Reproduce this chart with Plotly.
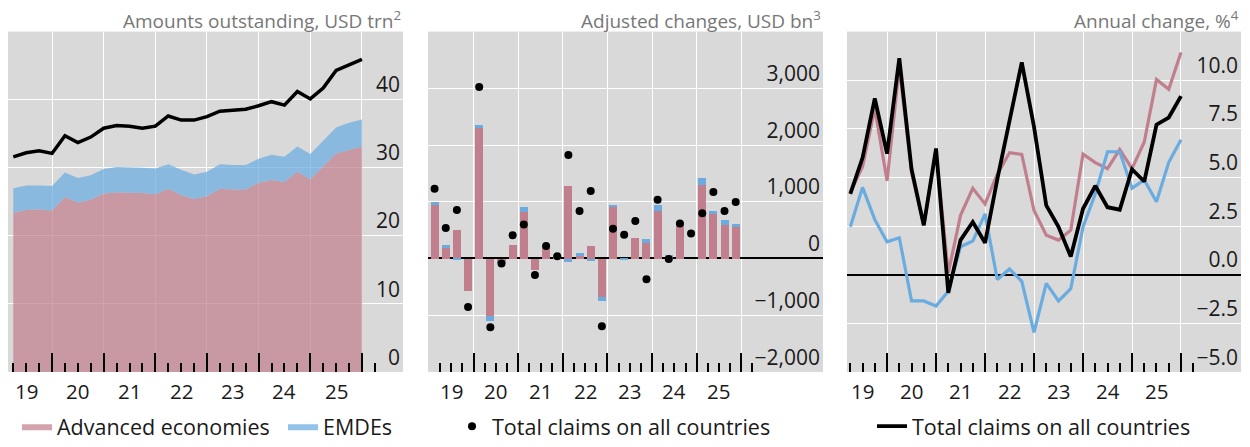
import numpy as np
import plotly.graph_objects as go

# ---- data -------------------------------------------------------------
quarters = [
    "2019Q1", "2019Q2", "2019Q3", "2019Q4", "2020Q1", "2020Q2", "2020Q3", "2020Q4",
    "2021Q1", "2021Q2", "2021Q3", "2021Q4", "2022Q1", "2022Q2", "2022Q3", "2022Q4",
    "2023Q1", "2023Q2", "2023Q3", "2023Q4", "2024Q1", "2024Q2", "2024Q3", "2024Q4",
    "2025Q1", "2025Q2", "2025Q3", "2025Q4",
]
year_labels = ["19", "20", "21", "22", "23", "24", "25"]

# Amounts outstanding, USD trn
adv_outstanding = [23.4, 23.8, 23.9, 23.7, 25.7, 24.9, 25.3, 26.2, 26.4, 26.4, 26.3, 26.1, 26.9, 26.0,
                   25.4, 25.8, 26.9, 26.8, 26.8, 27.8, 28.2, 27.9, 29.4, 28.3, 30.2, 32.1, 32.6, 33.1]
emde_outstanding = [3.6, 3.6, 3.5, 3.6, 3.6, 3.6, 3.6, 3.6, 3.7, 3.7, 3.7, 3.8, 3.6, 3.7,
                    3.6, 3.6, 3.6, 3.6, 3.6, 3.5, 3.7, 3.7, 3.7, 3.7, 3.8, 3.8, 4.0, 4.0]
total_outstanding = [31.6, 32.2, 32.5, 32.1, 34.7, 33.7, 34.5, 35.8, 36.2, 36.1, 35.8, 36.1, 37.6, 37.0,
                     37.0, 37.5, 38.3, 38.5, 38.6, 39.1, 39.7, 39.2, 41.2, 40.1, 41.7, 44.3, 45.1, 45.9]

# Adjusted changes, USD bn
adv_changes = [954, 191, 514, -572, 2300, -1012, -45, 254, 827, -197, 220, 10, 1277, 58,
               220, -676, 913, 0, 376, 283, 844, -20, 618, 0, 1306, 809, 595, 561]
emde_changes = [46, 46, -12, 0, 52, -80, -25, 0, 86, 0, 15, 65, -52, 40,
                -40, -58, 46, -20, 0, 70, 98, 75, 10, 0, 122, 35, 93, 57]
total_changes = [1231, 538, 855, -855, 3023, -1214, -87, 410, 601, -289, 220, 40, 1826, 838,
                 1191, -1196, 526, 420, 659, -364, 1035, -10, 618, 439, 798, 1173, 838, 994]

# Annual change, %
adv_growth = [4.23, 5.55, 8.55, 4.83, 10.67, 5.25, 2.54, 6.30, 0.10, 3.05, 4.44, 3.64, 5.17, 6.27,
              6.18, 3.30, 2.03, 1.78, 2.29, 6.20, 5.76, 5.45, 6.44, 5.45, 6.82, 10.04, 9.53, 11.43]
emde_growth = [2.46, 4.49, 2.83, 1.69, 1.90, -1.35, -1.35, -1.61, -0.85, 1.44, 1.73, 3.13, -0.25, 0.29,
               -0.34, -2.96, -0.45, -1.35, -0.72, 2.46, 4.15, 6.32, 6.32, 4.45, 4.87, 3.75, 5.78, 6.94]
total_growth = [4.15, 6.01, 9.06, 6.22, 11.13, 5.42, 2.54, 6.49, -0.93, 1.78, 2.71, 1.64, 4.90, 7.90,
                10.92, 7.60, 3.56, 2.46, 0.93, 3.39, 4.57, 3.47, 3.34, 5.42, 4.79, 7.71, 8.08, 9.18]

# ---- styling ------------------------------------------------------------
W, H = 1250, 447
PINK = "rgb(193,127,141)"
BLUE = "rgb(106,172,224)"
PINK_FILL = "rgba(193,127,141,0.72)"
BLUE_FILL = "rgba(106,172,224,0.72)"
BG = "#d9d9d9"
FONT = "Open Sans"
TEXT = "#1a1a1a"

x = np.arange(len(quarters))
n_years = len(year_labels)
year_ends = [4 * k + 3 for k in range(n_years)]          # Q4 positions
year_mids = [4 * k + 1 for k in range(n_years)]          # label positions (point axes)
bar_bounds = [4 * k - 0.5 for k in range(n_years + 1)]   # year boundaries (bar axis)
bar_mids = [4 * k + 1.5 for k in range(n_years)]

plot_top, plot_bottom = 32, 377
ydom = [(H - plot_bottom) / H, (H - plot_top) / H]
panels = [(8, 403), (428, 823), (847, 1241)]

fig = go.Figure()

# Panel 1: stacked areas plus total line
fig.add_trace(go.Scatter(x=x, y=adv_outstanding, name="Advanced economies", stackgroup="amt",
                         mode="lines", line=dict(width=0, color=PINK), fillcolor=PINK_FILL,
                         xaxis="x", yaxis="y", legend="legend"))
fig.add_trace(go.Scatter(x=x, y=emde_outstanding, name="EMDEs", stackgroup="amt",
                         mode="lines", line=dict(width=0, color=BLUE), fillcolor=BLUE_FILL,
                         xaxis="x", yaxis="y", legend="legend4"))
fig.add_trace(go.Scatter(x=x, y=total_outstanding, mode="lines", line=dict(color="black", width=3.5),
                         showlegend=False, xaxis="x", yaxis="y"))

# Panel 2: stacked bars and total dots
fig.add_trace(go.Bar(x=x, y=adv_changes, marker=dict(color=PINK, line=dict(width=0)), width=0.72,
                     showlegend=False, xaxis="x2", yaxis="y2"))
fig.add_trace(go.Bar(x=x, y=emde_changes, marker=dict(color=BLUE, line=dict(width=0)), width=0.72,
                     showlegend=False, xaxis="x2", yaxis="y2"))
fig.add_trace(go.Scatter(x=x, y=total_changes, mode="markers", name="Total claims on all countries",
                         marker=dict(color="black", size=8), xaxis="x2", yaxis="y2", legend="legend2"))

# Panel 3: growth lines
fig.add_trace(go.Scatter(x=x, y=adv_growth, mode="lines", line=dict(color=PINK, width=3.2),
                         showlegend=False, xaxis="x3", yaxis="y3"))
fig.add_trace(go.Scatter(x=x, y=emde_growth, mode="lines", line=dict(color=BLUE, width=3.2),
                         showlegend=False, xaxis="x3", yaxis="y3"))
fig.add_trace(go.Scatter(x=x, y=total_growth, mode="lines", name="Total claims on all countries",
                         line=dict(color="black", width=3.8), xaxis="x3", yaxis="y3", legend="legend3"))


def xaxis_cfg(dom, rng, majors, tick0):
    return dict(
        domain=[dom[0] / W, dom[1] / W], range=rng, tickmode="array", tickvals=majors,
        showticklabels=False, ticks="inside", ticklen=19, tickwidth=2, tickcolor="black",
        showgrid=True, gridcolor="white", gridwidth=1.3, zeroline=False, showline=False,
        minor=dict(tick0=tick0, dtick=1, ticks="inside", ticklen=9, tickwidth=1.5,
                   tickcolor="black", showgrid=False),
    )


def yaxis_cfg(anchor, rng, vals, fmt, zero):
    return dict(
        anchor=anchor, domain=ydom, range=rng, side="right", tickmode="array", tickvals=vals,
        tickformat=fmt, ticklabelposition="inside top", ticks="",
        tickfont=dict(family=FONT, size=21, color=TEXT),
        showgrid=True, gridcolor="white", gridwidth=1.3,
        zeroline=zero, zerolinecolor="black", zerolinewidth=1.5, showline=False,
    )


legend_y = (H - 432) / H
legend_common = dict(y=legend_y, xanchor="left", yanchor="middle", orientation="h",
                     bgcolor="rgba(0,0,0,0)", font=dict(size=21.5, color=TEXT))

fig.update_layout(
    width=W, height=H, margin=dict(l=0, r=0, t=0, b=0),
    paper_bgcolor="white", plot_bgcolor=BG, barmode="relative", bargap=0,
    font=dict(family=FONT, size=20, color=TEXT),
    xaxis=xaxis_cfg(panels[0], [-0.41, 30.18], year_ends, 0),
    xaxis2=xaxis_cfg(panels[1], [-0.59, 34.83], bar_bounds, -0.5),
    xaxis3=xaxis_cfg(panels[2], [-0.27, 31.9], year_ends, 0),
    yaxis=yaxis_cfg("x", [0, 50], [0, 10, 20, 30, 40], ",d", False),
    yaxis2=yaxis_cfg("x2", [-2000, 4000], [-2000, -1000, 0, 1000, 2000, 3000], ",d", True),
    yaxis3=yaxis_cfg("x3", [-5, 12.5], [-5, -2.5, 0, 2.5, 5, 7.5, 10], ".1f", True),
    legend=dict(x=17 / W, **legend_common),
    legend4=dict(x=283 / W, **legend_common),
    legend2=dict(x=452 / W, **legend_common),
    legend3=dict(x=872 / W, **legend_common),
)

# Year labels under each panel
label_y = (H - 396.6) / H
for ax, mids in (("x", year_mids), ("x2", bar_mids), ("x3", year_mids)):
    for pos, lab in zip(mids, year_labels):
        fig.add_annotation(x=pos, y=label_y, xref=ax, yref="paper", text=lab, showarrow=False,
                           xanchor="center", yanchor="middle", font=dict(size=20.5, color=TEXT))

# Panel titles, right-aligned above each plot area
titles = ["Amounts outstanding, USD trn<sup>2</sup>", "Adjusted changes, USD bn<sup>3</sup>",
          "Annual change, %<sup>4</sup>"]
for (left, right), t in zip(panels, titles):
    fig.add_annotation(x=right / W, y=(H - 20) / H, xref="paper", yref="paper", text=t,
                       showarrow=False, xanchor="right", yanchor="middle",
                       font=dict(size=19, color="#777777"))

fig.write_html("out.html")
